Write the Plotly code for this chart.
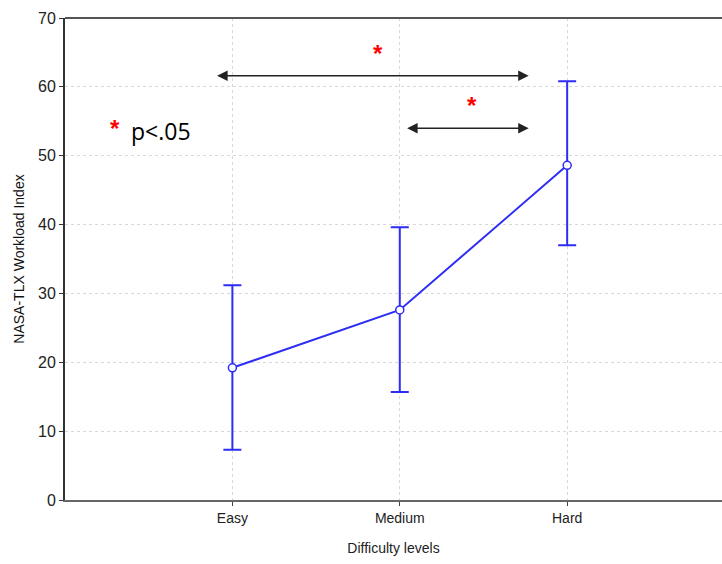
import plotly.graph_objects as go

categories = ["Easy", "Medium", "Hard"]
cat_pos = [1, 2, 3]
means = [19.2, 27.6, 48.6]
upper = [31.2, 39.6, 60.8]
lower = [7.3, 15.7, 37.0]
y_ticks = [0, 10, 20, 30, 40, 50, 60, 70]

err_plus = [u - m for u, m in zip(upper, means)]
err_minus = [m - l for m, l in zip(means, lower)]

blue = "rgb(45,45,245)"
fig = go.Figure()
fig.add_trace(go.Scatter(
    x=cat_pos, y=means, mode="lines+markers",
    line=dict(color=blue, width=2),
    marker=dict(symbol="circle", size=8, color="white", line=dict(color=blue, width=1.5)),
    error_y=dict(type="data", symmetric=False, array=err_plus, arrayminus=err_minus,
                 color=blue, thickness=2, width=9),
    showlegend=False,
))

font = "Liberation Sans, Arial, sans-serif"
fig.update_layout(
    width=722, height=564,
    margin=dict(l=65, r=0, t=18, b=64),
    plot_bgcolor="white", paper_bgcolor="white",
    font=dict(family=font, size=14, color="#333"),
    xaxis=dict(range=[0, 3.925], tickvals=cat_pos, ticktext=categories,
               showgrid=True, gridcolor="#d8d8d8", griddash="dot", gridwidth=1,
               zeroline=False, showline=True, linecolor="#666", linewidth=2,
               ticks="outside", ticklen=4, tickcolor="#444",
               tickfont=dict(size=14, color="#222"),
               title=dict(text="Difficulty levels", font=dict(size=14, color="#222"), standoff=18)),
    yaxis=dict(range=[0, 70], tickvals=y_ticks,
               showgrid=True, gridcolor="#d8d8d8", griddash="dot", gridwidth=1,
               zeroline=False, showline=True, linecolor="#333", linewidth=2,
               ticks="outside", ticklen=4, tickcolor="#333",
               tickfont=dict(size=16, color="#222"),
               title=dict(text="NASA-TLX Workload Index", font=dict(size=14, color="#111"), standoff=10)),
)

# top border
fig.add_shape(type="line", xref="paper", yref="paper", x0=0, x1=1, y0=1, y1=1,
              line=dict(color="#555", width=2))

# significance arrows
arrow_col = "#222"
for x0, x1, y in [(0.90, 2.77, 61.6), (2.035, 2.77, 54.0)]:
    fig.add_annotation(x=x1, y=y, ax=x0, ay=y, xref="x", yref="y", axref="x", ayref="y",
                       text="", showarrow=True, arrowhead=2, arrowside="end+start",
                       arrowsize=1.4, arrowwidth=1.5, arrowcolor=arrow_col,
                       startarrowhead=2, startarrowsize=1.4)

for x, y in [(1.87, 64.8), (2.43, 57.3)]:
    fig.add_annotation(x=x, y=y, xref="x", yref="y", text="<b>*</b>", showarrow=False,
                       font=dict(size=24, color="red", family=font))

fig.add_annotation(x=0.30, y=53.9, xref="x", yref="y", text="<b>*</b>", showarrow=False,
                   font=dict(size=24, color="red", family=font))
fig.add_annotation(x=0.38, y=53.6, xref="x", yref="y", text="p<.05", showarrow=False,
                   xanchor="left", font=dict(size=23, color="black", family="Open Sans, sans-serif"))

fig.write_html("out.html")
